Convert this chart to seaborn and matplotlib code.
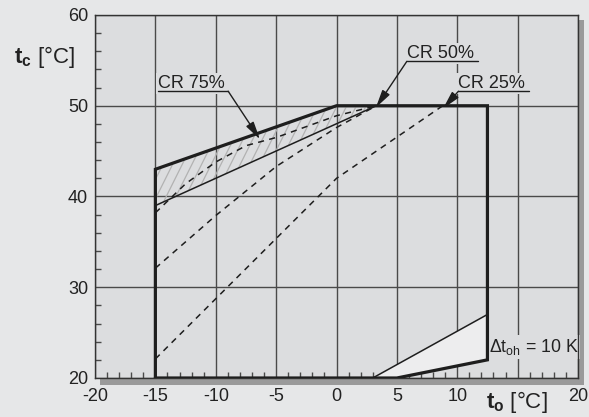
import numpy as np
import pandas as pd
import matplotlib
matplotlib.use("Agg")
import matplotlib.pyplot as plt
from matplotlib.patches import Rectangle, Polygon
from matplotlib.collections import LineCollection
import seaborn as sns

# ── DATA ────────────────────────────────────────────────────
# operating envelope (t_o, t_c)
env_x = [-15, -15, 0, 12.5, 12.5, 5, -15]
env_y = [20, 43, 50, 50, 22, 20, 20]

# CR 75% limit (thin solid) and hatched band above it
cr75_lim_x = [-15, 3.3]
cr75_lim_y = [39, 50]
band_x = [-15, 3.3, 0, -15]
band_y = [39, 50, 50, 43]

# dashed capacity-regulation curves
cr75_x = [-15, -12.5, -10, -7.5, -5, -2.5, 0, 3.3]
cr75_y = [38.2, 41.4, 43.8, 45.6, 46.5, 47.7, 48.9, 50]
cr50_x = [-15, -10, -5, 0, 3.3]
cr50_y = [32.1, 37.9, 43.3, 47.6, 50]
cr25_x = [-15, 0, 8.8]
cr25_y = [22.1, 42, 50]

# superheat line (dt_oh = 10 K) and light area
oh_x = [3, 12.5]
oh_y = [20, 27]
oh_fill_x = [3, 12.5, 12.5, 5]
oh_fill_y = [20, 27, 22, 20]

x_ticks = [-20, -15, -10, -5, 0, 5, 10, 15, 20]
x_tick_labels = ["-20", "-15", "-10", "-5", "0", "5", "10", "", "20"]
y_ticks = [20, 30, 40, 50, 60]

# labels: (text, text x, underline y, underline end x, arrow tip, leader side)
cr_labels = [
    ("CR 75%", -14.8, 51.6, -8.97, (-6.34, 46.3), "right"),
    ("CR 50%", 5.83, 54.9, 11.7, (3.26, 49.8), "left"),
    ("CR 25%", 10.1, 51.6, 15.95, (8.83, 49.7), "left"),
]

# ── STYLE ───────────────────────────────────────────────────
FIG_BG = "#e6e7e8"
AX_BG = "#dcdddf"
INK = "#1e1e1e"
GRID = "#4a4a4a"

sns.set_theme(style="ticks")
plt.rcParams["font.family"] = ["Liberation Sans", "DejaVu Sans"]
plt.rcParams["mathtext.fontset"] = "custom"
plt.rcParams["mathtext.rm"] = "Liberation Sans"
plt.rcParams["mathtext.bf"] = "Liberation Sans:bold"
plt.rcParams["mathtext.it"] = "Liberation Sans:italic"

fig = plt.figure(figsize=(5.89, 4.17), dpi=100, facecolor=FIG_BG)
W, H = 589, 417
ax = fig.add_axes([95 / W, 1 - 378 / H, 483 / W, 363 / H])
ax.set_facecolor(AX_BG)

# drop shadow on right/bottom
fig.patches.append(Rectangle((100 / W, 1 - 385 / H), 484 / W, 365 / H,
                             transform=fig.transFigure, facecolor="#9a9a9a",
                             edgecolor="none", zorder=-5))

# hatched band (steep light-gray strokes clipped to the band)
band = Polygon(np.column_stack([band_x, band_y]), closed=True,
               facecolor="none", edgecolor="none")
ax.add_patch(band)
starts = np.arange(-22, 4, 0.8)
segs = [[(s, 36), (s + 6.0, 52)] for s in starts]
hatch = LineCollection(segs, colors="#b2b2b2", linewidths=0.9, zorder=1.5)
ax.add_collection(hatch)
hatch.set_clip_path(band)

ax.fill(oh_fill_x, oh_fill_y, facecolor="#ededee", edgecolor="none",
        zorder=1.5)

# lines
dash = (0, (4, 3.5))
for lx, ly in [(cr25_x, cr25_y), (cr50_x, cr50_y), (cr75_x, cr75_y)]:
    sns.lineplot(x=lx, y=ly, sort=False, estimator=None, color=INK,
                 lw=1.1, linestyle=dash, ax=ax, zorder=3)
sns.lineplot(x=cr75_lim_x, y=cr75_lim_y, sort=False, estimator=None,
             color=INK, lw=1.1, ax=ax, zorder=3)
sns.lineplot(x=oh_x, y=oh_y, sort=False, estimator=None, color=INK,
             lw=1.1, ax=ax, zorder=3)
sns.lineplot(x=env_x, y=env_y, sort=False, estimator=None, color=INK,
             lw=2.3, ax=ax, zorder=4, solid_joinstyle="miter")

# CR labels with underline and leader arrow
for txt, tx, uy, ux_end, tip, side in cr_labels:
    ax.text(tx, uy + 0.35, txt, fontsize=13, color="#222222", ha="left",
            va="baseline", zorder=1.2,
            bbox=dict(boxstyle="square,pad=0.12", facecolor=AX_BG,
                      edgecolor="none"))
    ax.plot([tx, ux_end], [uy, uy], color=INK, lw=1.0, zorder=3)
    start = (ux_end, uy) if side == "right" else (tx, uy)
    ax.annotate("", xy=tip, xytext=start, zorder=5,
                arrowprops=dict(arrowstyle="-|>,head_length=0.9,head_width=0.22",
                                color=INK, lw=1.0, shrinkA=0, shrinkB=0))

ax.text(12.6, 23.4, "Δt$_{\\rm oh}$ = 10 K", fontsize=12.8, color="#222222",
        ha="left", va="center", zorder=1.2,
        bbox=dict(boxstyle="square,pad=0.1", facecolor=AX_BG, edgecolor="none"))

# axes, grid, ticks
ax.set_xlim(-20, 20)
ax.set_ylim(20, 60)
ax.set_xticks(x_ticks)
ax.set_yticks(y_ticks)
ax.set_xticks(np.arange(-20, 21, 1), minor=True)
ax.set_yticks(np.arange(20, 61, 2), minor=True)
ax.set_xticklabels(x_tick_labels)
ax.set_yticklabels([str(v) for v in y_ticks])
ax.grid(True, which="major", color=GRID, lw=1.0)
ax.set_axisbelow(True)
ax.tick_params(which="major", length=0, labelsize=13, labelcolor="#222222")
ax.tick_params(axis="x", which="major", pad=7)
ax.tick_params(axis="y", which="major", pad=5)
ax.tick_params(which="minor", direction="in", length=4, width=1,
               color=GRID, top=False, right=False)
for s in ax.spines.values():
    s.set_color("#333333")
    s.set_linewidth(1.0)
ax.set_xlabel("")
ax.set_ylabel("")

fig.text(14 / W, 1 - 63 / H, r"$\mathbf{t_c}$ [°C]", fontsize=16,
         color="#222222", ha="left", va="baseline")
fig.text(486 / W, 1 - 408 / H, r"$\mathbf{t_o}$ [°C]", fontsize=16,
         color="#222222", ha="left", va="baseline")

plt.savefig("out.png", dpi=100, facecolor=FIG_BG)
plt.close()
